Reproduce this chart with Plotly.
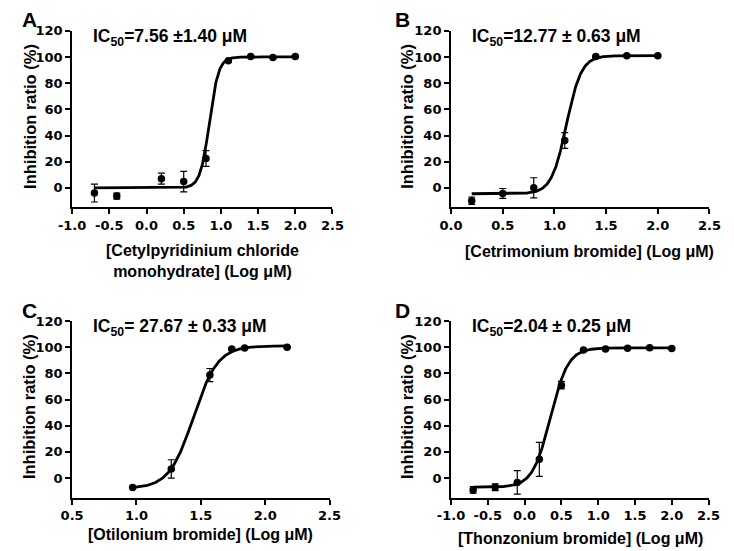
import numpy as np
import plotly.graph_objects as go

# ---------------- data ----------------
# Panel A: Cetylpyridinium chloride monohydrate
a_logc = [-0.7, -0.4, 0.2, 0.5, 0.8, 1.1, 1.4, 1.7, 2.0]
a_inhib = [-4.0, -6.3, 7.0, 4.8, 22.4, 97.1, 100.4, 99.6, 100.4]
a_err = [6.8, 2.3, 4.2, 7.8, 6.0, 0.8, 0.5, 0.5, 0.5]
a_fit = [0.0, 100.0, 0.845, 7.0]          # bottom, top, logIC50, hill slope

# Panel B: Cetrimonium bromide
b_logc = [0.2, 0.5, 0.8, 1.1, 1.4, 1.7, 2.0]
b_inhib = [-9.8, -4.3, 0.0, 36.2, 100.4, 100.9, 100.9]
b_err = [2.8, 3.8, 7.7, 6.0, 0.5, 0.5, 0.5]
b_fit = [-4.5, 101.0, 1.116, 6.0]

# Panel C: Otilonium bromide
c_logc = [0.97, 1.27, 1.57, 1.74, 1.84, 2.17]
c_inhib = [-7.3, 7.0, 78.7, 98.6, 99.4, 100.0]
c_err = [0.5, 7.0, 5.0, 0.5, 0.5, 0.5]
c_fit = [-8.0, 101.0, 1.442, 4.6]

# Panel D: Thonzonium bromide
d_logc = [-0.7, -0.4, -0.1, 0.2, 0.5, 0.8, 1.1, 1.4, 1.7, 2.0]
d_inhib = [-9.1, -7.0, -3.3, 14.3, 71.0, 97.9, 98.6, 99.1, 99.6, 98.9]
d_err = [2.5, 2.6, 9.0, 13.0, 2.8, 0.5, 0.5, 0.5, 0.5, 0.5]
d_fit = [-7.0, 99.5, 0.35, 3.6]

panel_letters = ["A", "B", "C", "D"]
ic50_texts = [
    "IC<sub>50</sub>=7.56 ±1.40 μM",
    "IC<sub>50</sub>=12.77 ± 0.63 μM",
    "IC<sub>50</sub>= 27.67 ± 0.33 μM",
    "IC<sub>50</sub>=2.04 ± 0.25 μM",
]
x_titles = [
    "[Cetylpyridinium chloride<br>monohydrate] (Log μM)",
    "[Cetrimonium bromide] (Log μM)",
    "[Otilonium bromide] (Log μM)",
    "[Thonzonium bromide] (Log μM)",
]
y_title = "Inhibition ratio (%)"

x_ticks_a = [-1.0, -0.5, 0.0, 0.5, 1.0, 1.5, 2.0, 2.5]
x_ticks_b = [0.0, 0.5, 1.0, 1.5, 2.0, 2.5]
x_ticks_c = [0.5, 1.0, 1.5, 2.0, 2.5]
x_ticks_d = [-1.0, -0.5, 0.0, 0.5, 1.0, 1.5, 2.0, 2.5]
y_ticks = [0, 20, 40, 60, 80, 100, 120]

# ---------------- layout geometry ----------------
OFF = 8                       # default page margin around the plot div
FW, FH = 734 - OFF, 551 - OFF
TITLE_FONT = "Liberation Sans, Arial, Helvetica, sans-serif"
TICK_FONT = "DejaVu Sans, Verdana, sans-serif"


def px(x):
    return (x - OFF) / FW


def py(y):
    return 1 - (y - OFF) / FH


# window-pixel boxes of the plotting areas: (left, right, top, bottom)
boxes = [(60, 330, 24, 203), (453, 721, 24, 203), (60, 327, 318, 497), (453, 720, 318, 497)]

panels = [
    (a_logc, a_inhib, a_err, a_fit, x_ticks_a),
    (b_logc, b_inhib, b_err, b_fit, x_ticks_b),
    (c_logc, c_inhib, c_err, c_fit, x_ticks_c),
    (d_logc, d_inhib, d_err, d_fit, x_ticks_d),
]

fig = go.Figure()
layout = dict(
    width=FW, height=FH,
    margin=dict(l=0, r=0, t=0, b=0),
    paper_bgcolor="white", plot_bgcolor="white",
    showlegend=False,
    font=dict(family=TITLE_FONT, color="black"),
)
annotations = []


def hill(x, p):
    bottom, top, logic50, slope = p
    return bottom + (top - bottom) / (1.0 + 10 ** ((logic50 - x) * slope))


for i, (xs, ys, es, fit, xt) in enumerate(panels):
    n = i + 1
    xa = "x" if n == 1 else f"x{n}"
    ya = "y" if n == 1 else f"y{n}"
    l, r, t, b = boxes[i]
    xdom = [px(l), px(r)]
    ydom = [py(b), py(t)]

    xc = np.linspace(min(xs), max(xs), 400)
    fig.add_trace(go.Scatter(x=xc, y=hill(xc, fit), mode="lines",
                             line=dict(color="black", width=2.8),
                             xaxis=xa, yaxis=ya, hoverinfo="skip"))
    fig.add_trace(go.Scatter(x=xs, y=ys, mode="markers",
                             marker=dict(color="black", size=7.5),
                             error_y=dict(type="data", array=es, color="black",
                                          thickness=1.2, width=3.5),
                             xaxis=xa, yaxis=ya))

    axis_common = dict(showline=True, linecolor="black", linewidth=2,
                       ticks="outside", ticklen=5, tickwidth=2, tickcolor="black",
                       showgrid=False, zeroline=False,
                       tickfont=dict(family=TICK_FONT, size=13, color="black", weight="bold"))
    layout["xaxis" if n == 1 else f"xaxis{n}"] = dict(
        domain=xdom, range=[xt[0], xt[-1]], anchor=ya,
        tickvals=xt, ticktext=[f"{v:.1f}" for v in xt], **axis_common)
    layout["yaxis" if n == 1 else f"yaxis{n}"] = dict(
        domain=ydom, range=[-15, 120], anchor=xa,
        tickvals=y_ticks, ticktext=[str(v) for v in y_ticks], **axis_common)

    # panel letter
    annotations.append(dict(text=f"<b>{panel_letters[i]}</b>", x=px(max(l - 50, 16)), y=py(t - 11),
                            xref="paper", yref="paper", xanchor="center", yanchor="middle",
                            showarrow=False, font=dict(family=TITLE_FONT, size=21, color="black")))
    # IC50 text
    annotations.append(dict(text=f"<b>{ic50_texts[i]}</b>", x=px(l + 20), y=py(t + 7),
                            xref="paper", yref="paper", xanchor="left", yanchor="middle",
                            showarrow=False, font=dict(family=TITLE_FONT, size=17.5, color="black")))
    # y title
    annotations.append(dict(text=f"<b>{y_title}</b>", x=px(max(l - 45, 16)), y=py((t + b) / 2 - 3),
                            xref="paper", yref="paper", xanchor="center", yanchor="middle",
                            textangle=-90, showarrow=False,
                            font=dict(family=TITLE_FONT, size=16.5, color="black")))

# x titles (window-pixel centres)
x_title_pos = [(195, 257), (597, 248), (193, 534), (587, 538)]
for i, (cx, cy) in enumerate(x_title_pos):
    annotations.append(dict(text=f"<b>{x_titles[i]}</b>", x=px(cx), y=py(cy),
                            xref="paper", yref="paper", xanchor="center", yanchor="middle",
                            showarrow=False, font=dict(family=TITLE_FONT, size=16, color="black")))

layout["annotations"] = annotations
fig.update_layout(**layout)
fig.write_html("out.html")
